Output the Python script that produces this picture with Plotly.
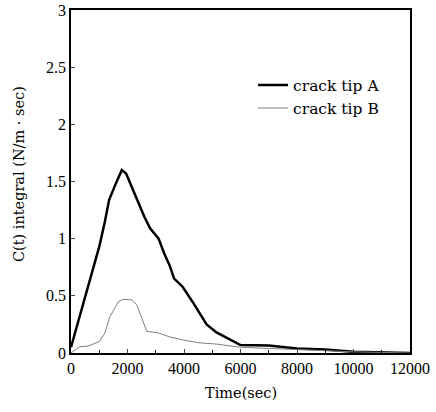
import plotly.graph_objects as go

time_a = [0, 500, 1000, 1200, 1350, 1600, 1800, 1950, 2200, 2450, 2600, 2800, 3100, 3300, 3500, 3650, 3950, 4350, 4800, 5150, 5600, 6000, 7000, 8000, 9000, 10000, 12000]
crack_a = [0.05, 0.49, 0.93, 1.15, 1.34, 1.49, 1.60, 1.57, 1.42, 1.27, 1.19, 1.09, 1.00, 0.87, 0.76, 0.65, 0.58, 0.43, 0.25, 0.18, 0.12, 0.07, 0.065, 0.04, 0.03, 0.01, 0.0]

time_b = [0, 300, 600, 1000, 1200, 1380, 1500, 1680, 1850, 2150, 2330, 2500, 2680, 3100, 3500, 3950, 4500, 5150, 6000, 7000, 8000, 10000, 12000]
crack_b = [0.0, 0.055, 0.06, 0.10, 0.175, 0.32, 0.37, 0.45, 0.47, 0.465, 0.42, 0.30, 0.19, 0.175, 0.14, 0.115, 0.09, 0.078, 0.05, 0.04, 0.03, 0.01, 0.0]

x_ticks = [0, 2000, 4000, 6000, 8000, 10000, 12000]
x_tick_text = ["0", "2000", "4000", "6000", "8000", "10000", "12000"]
y_ticks = [0, 0.5, 1, 1.5, 2, 2.5, 3]
y_tick_text = ["0", "0.5", "1", "1.5", "2", "2.5", "3"]

fig = go.Figure()
fig.add_trace(go.Scatter(x=time_a, y=crack_a, mode="lines", name="crack tip A",
                         line=dict(color="black", width=2.5)))
fig.add_trace(go.Scatter(x=time_b, y=crack_b, mode="lines", name="crack tip B",
                         line=dict(color="#808080", width=1)))

serif = "Liberation Serif"
tfont = "DejaVu Serif"

fig.update_layout(
    width=436, height=412,
    margin=dict(l=71, r=26, t=10, b=59),
    paper_bgcolor="white", plot_bgcolor="white",
    showlegend=True,
    legend=dict(x=0.537, y=0.83, xanchor="left", yanchor="top",
                font=dict(family=tfont, size=15.5, color="black"),
                bgcolor="rgba(0,0,0,0)", tracegroupgap=0, itemwidth=30),
    xaxis=dict(range=[0, 12000], tickvals=x_ticks, ticktext=x_tick_text, ticks="inside", ticklen=4,
               minor=dict(dtick=1000, ticks="inside", ticklen=3, tickcolor="black"),
               showgrid=False, zeroline=False, showline=True, linecolor="black",
               linewidth=1.5, mirror=True, automargin=False,
               tickfont=dict(family=serif, size=16, color="black")),
    yaxis=dict(range=[0, 3], tickvals=y_ticks, ticktext=y_tick_text, ticks="inside", ticklen=4,
               showgrid=False, zeroline=False, showline=True, linecolor="black",
               linewidth=1.5, mirror=True, automargin=False,
               tickfont=dict(family=serif, size=16, color="black")),
    annotations=[
        dict(text="Time(sec)", xref="paper", yref="paper", x=0.5, y=-0.117,
             xanchor="center", yanchor="middle", showarrow=False,
             font=dict(family=tfont, size=14.5, color="black")),
        dict(text="C(t) integral (N/m · sec)", xref="paper", yref="paper", x=-0.153, y=0.522,
             xanchor="center", yanchor="middle", textangle=-90, showarrow=False,
             font=dict(family=tfont, size=14.5, color="black")),
    ],
)

fig.write_html("out.html", config={"displayModeBar": False},
               post_script="document.body.style.margin='0';")
